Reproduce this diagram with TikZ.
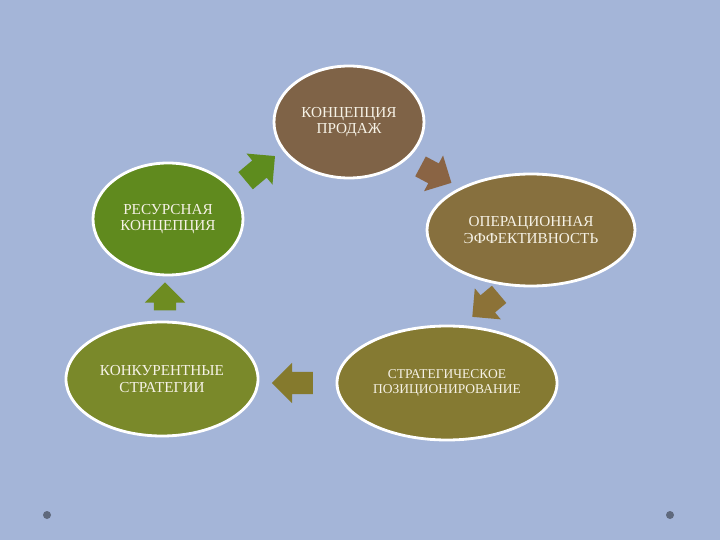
\documentclass[tikz,border=0pt]{standalone}
\usepackage{fontspec}
\setmainfont{Liberation Serif}
\usepackage{tikz}
\usetikzlibrary{shapes.geometric,shapes.arrows}
\definecolor{bgblue}{RGB}{164,181,216}
\definecolor{prodaz}{RGB}{127,99,71}
\definecolor{operac}{RGB}{135,112,62}
\definecolor{strpoz}{RGB}{133,122,50}
\definecolor{konstr}{RGB}{122,137,42}
\definecolor{resurs}{RGB}{96,138,30}
\definecolor{txtcol}{RGB}{246,242,230}
\definecolor{arres}{RGB}{94,140,30}
\definecolor{arprod}{RGB}{138,100,68}
\definecolor{aroper}{RGB}{140,114,55}
\definecolor{arstr}{RGB}{133,122,45}
\definecolor{arkonk}{RGB}{110,140,33}
\definecolor{dotcol}{RGB}{95,105,125}
\newlength{\shaft}
\setlength{\shaft}{0.66cm}
\tikzset{
	konc/.style={ellipse, draw=white, line width=2.4pt, text=txtcol, align=center, font=\fontsize{13}{14}\selectfont},
	blk/.style={single arrow, inner xsep=0pt, inner ysep=0.5\shaft, single arrow head extend=0.27cm}
}

\begin{document}
\begin{tikzpicture}[x=0.03cm, y=-0.03cm]
	\fill[bgblue] (0,0) rectangle (720,540);
	\useasboundingbox (0,0) rectangle (720,540);

	\node[konc, fill=prodaz, minimum width=4.5cm, minimum height=3.36cm] (prod) at (349,122) {КОНЦЕПЦИЯ\\ПРОДАЖ};
	\node[konc, fill=operac, minimum width=6.24cm, minimum height=3.36cm] (oper) at (531,230) {ОПЕРАЦИОННАЯ\\ЭФФЕКТИВНОСТЬ};
	\node[konc, fill=strpoz, minimum width=6.6cm, minimum height=3.42cm, font=\fontsize{11.5}{12.5}\selectfont] (strat) at (447,383) {СТРАТЕГИЧЕСКОЕ\\ПОЗИЦИОНИРОВАНИЕ};
	\node[konc, fill=konstr, minimum width=5.76cm, minimum height=3.42cm] (konk) at (162,379) {КОНКУРЕНТНЫЕ\\СТРАТЕГИИ};
	\node[konc, fill=resurs, minimum width=4.5cm, minimum height=3.36cm] (res) at (168,219) {РЕСУРСНАЯ\\КОНЦЕПЦИЯ};

	% arrows round the cycle
	\node[blk, fill=arres, minimum height=1.15cm, minimum width=1.15cm, rotate=40] (a1) at (256,172) {};
	\node[blk, fill=arprod, minimum height=1.05cm, minimum width=1.05cm, rotate=-28] (a2) at (431,172) {};
	\node[blk, fill=aroper, minimum height=1.05cm, minimum width=1.05cm, rotate=-140] (a3) at (490,302) {};
	\node[blk, fill=arstr, minimum height=1.23cm, minimum width=1.08cm, rotate=180] (a4) at (298,383) {};
	\node[blk, fill=arkonk, minimum height=0.84cm, minimum width=1.2cm, rotate=90] (a5) at (165,302) {};

	\fill[dotcol] (47,515) circle (4);
	\fill[dotcol] (670,515) circle (4);
\end{tikzpicture}
\end{document}
